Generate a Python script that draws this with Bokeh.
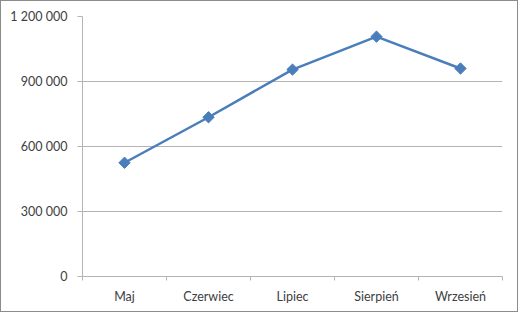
import math
from bokeh.plotting import figure
from bokeh.models import FixedTicker, Range1d
from bokeh.embed import file_html
from bokeh.resources import INLINE

months = ["Maj", "Czerwiec", "Lipiec", "Sierpień", "Wrzesień"]
values = [525000, 735000, 955000, 1107000, 960000]
y_ticks = [0, 300000, 600000, 900000, 1200000]
y_tick_labels = ["0", "300 000", "600 000", "900 000", "1 200 000"]

FONT = "Lato"
TEXT = "#404040"
GRID = "#b4b4b4"
BLUE = "#4a7ebb"

p = figure(width=518, height=312, output_backend="svg", toolbar_location=None,
           x_range=Range1d(0, len(months)), y_range=Range1d(0, 1200000),
           min_border_left=81, min_border_right=17, min_border_top=15, min_border_bottom=37)
p.styles = {"border": "1px solid #8c8c8c"}
p.outline_line_color = None
p.background_fill_color = "white"
p.border_fill_color = "white"

xs = [i + 0.5 for i in range(len(months))]
p.line(xs, values, line_color=BLUE, line_width=2.5)
p.scatter(xs, values, marker="square", angle=math.pi / 4, size=8,
          fill_color=BLUE, line_color=BLUE)

# x axis
p.xaxis.ticker = FixedTicker(ticks=xs, minor_ticks=list(range(len(months) + 1)))
p.xaxis.major_label_overrides = {x: m for x, m in zip(xs, months)}
p.xaxis.major_tick_line_color = None
p.xaxis.major_tick_out = 4
p.xaxis.major_tick_in = 0
p.xaxis.minor_tick_line_color = GRID
p.xaxis.minor_tick_out = 4
p.xaxis.minor_tick_in = 0
p.xaxis.major_label_standoff = 8
p.xaxis.axis_line_color = GRID
p.xgrid.grid_line_color = None

# y axis
p.yaxis.ticker = FixedTicker(ticks=y_ticks)
p.yaxis.major_label_overrides = {t: l for t, l in zip(y_ticks, y_tick_labels)}
p.yaxis.major_tick_line_color = GRID
p.yaxis.major_tick_out = 5
p.yaxis.major_tick_in = 0
p.yaxis.minor_tick_line_color = None
p.yaxis.major_label_standoff = 10
p.yaxis.axis_line_color = GRID
p.ygrid.grid_line_color = GRID
p.ygrid.grid_line_width = 1

for ax in (p.xaxis, p.yaxis):
    ax.major_label_text_font = FONT
    ax.major_label_text_font_size = "12.5px"
    ax.major_label_text_color = TEXT

open("out.html", "w").write(file_html(p, INLINE))
